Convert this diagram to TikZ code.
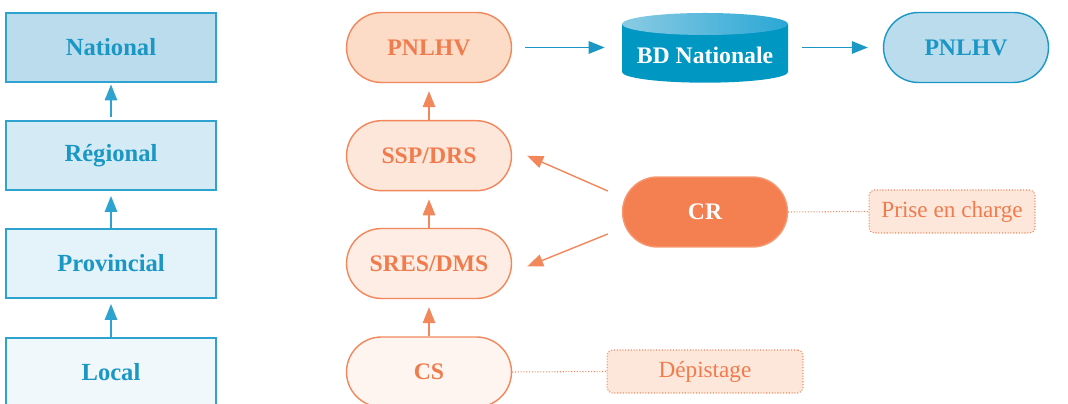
\documentclass[tikz,border=0pt]{standalone}
\usepackage{fontspec}
\setmainfont{Liberation Serif}
\usetikzlibrary{arrows.meta,positioning,calc}

\definecolor{bluetxt}{HTML}{1A97C4}
\definecolor{blueline}{HTML}{2EA3CF}
\definecolor{natfill}{HTML}{BBDCEC}
\definecolor{regfill}{HTML}{D4EAF4}
\definecolor{provfill}{HTML}{E4F2F9}
\definecolor{locfill}{HTML}{F0F8FC}
\definecolor{orangetxt}{HTML}{F07C4D}
\definecolor{orangeline}{HTML}{F2875C}
\definecolor{pnlfill}{HTML}{FCDBC7}
\definecolor{sspfill}{HTML}{FDE6DA}
\definecolor{sresfill}{HTML}{FDEDE4}
\definecolor{csfill}{HTML}{FEF5F0}
\definecolor{crfill}{HTML}{F47F50}
\definecolor{taskfill}{HTML}{FDE6DA}
\definecolor{bdbody}{HTML}{0097C3}
\definecolor{bdtopa}{HTML}{8ACBE3}
\definecolor{bdtopb}{HTML}{2AA7D5}

\begin{document}
\begin{tikzpicture}[
    x=0.02cm, y=-0.02cm,
    level/.style={rectangle, draw=blueline, line width=0.8pt, minimum width=4.2cm, minimum height=1.38cm, align=center, text=bluetxt, font=\fontsize{14}{16}\selectfont\bfseries},
    pill/.style={rectangle, rounded corners=0.7cm, line width=0.8pt, minimum width=3.3cm, minimum height=1.4cm, align=center, font=\fontsize{13.5}{16}\selectfont\bfseries},
    opill/.style={pill, draw=orangeline, text=orangetxt},
    task/.style={rectangle, rounded corners=3pt, draw=orangeline, densely dotted, line width=0.6pt, fill=taskfill, minimum height=0.86cm, text=orangetxt, font=\fontsize{13.2}{16}\selectfont},
    barrow/.style={-{Triangle[length=0.32cm, width=0.25cm]}, line width=0.8pt, draw=blueline, fill=blueline},
    oarrow/.style={-{Triangle[length=0.32cm, width=0.25cm]}, line width=0.8pt, draw=orangeline, fill=orangeline},
    link/.style={densely dotted, line width=0.6pt, draw=orangeline}
]
\clip (0,0) rectangle (1068,404);

% Left column: levels
\node[level, fill=natfill] (nat) at (111,47.5) {National};
\node[level, fill=regfill] (reg) at (111,155.5) {Régional};
\node[level, fill=provfill] (prov) at (111,263.5) {Provincial};
\node[level, fill=locfill] (loc) at (111,372.5) {Local};

\draw[barrow, shorten <=2pt, shorten >=1pt] (reg) -- (nat);
\draw[barrow, shorten >=3pt] (prov) -- (reg);
\draw[barrow, shorten >=3pt] (loc) -- (prov);

% Middle column: structures
\node[opill, fill=pnlfill] (pnl) at (429,47.5) {PNLHV};
\node[opill, fill=sspfill] (ssp) at (429,155.7) {SSP/DRS};
\node[opill, fill=sresfill] (sres) at (429,263.5) {SRES/DMS};
\node[opill, fill=csfill] (cs) at (429,372) {CS};

\draw[oarrow, shorten >=0.16cm] (ssp) -- (pnl);
\draw[oarrow, shorten >=0.16cm] (sres) -- (ssp);
\draw[oarrow, shorten >=0.16cm] (cs) -- (sres);

% Database
\fill[bdbody] (622,24) -- (622,72) arc[start angle=180, end angle=0, x radius=83, y radius=10.7] -- (788,24) -- cycle;
\shade[left color=bdtopa, right color=bdtopb] (705,24) ellipse[x radius=83, y radius=11];
\node[font=\fontsize{13.5}{16}\selectfont\bfseries, text=white, minimum width=3.32cm, minimum height=1.4cm] (bd) at (705,55) {BD Nationale};

\node[pill, draw=bluetxt, fill=natfill, text=bluetxt] (pnl2) at (966,47.5) {PNLHV};

\draw[barrow, draw=bluetxt, fill=bluetxt, shorten <=0.26cm, shorten >=0.34cm] (pnl.east) -- (pnl.east -| bd.west);
\draw[barrow, draw=bluetxt, fill=bluetxt, shorten <=0.28cm, shorten >=0.3cm] (bd.east |- pnl2.west) -- (pnl2.west);

% Reference centre
\node[pill, draw=crfill!80, fill=crfill, text=white] (cr) at (705,212) {CR};
\node[task, minimum width=3.32cm] (prise) at (952,211.5) {Prise en charge};
\draw[link] (cr.east) -- (prise.west);

\draw[oarrow] ($(cr.west)+(-14,-21)$) -- ($(ssp.east)+(15,0)$);
\draw[oarrow] ($(cr.west)+(-14,22)$) -- ($(sres.east)+(15,3)$);

% Screening
\node[task, minimum width=3.92cm] (dep) at (705,371.5) {Dépistage};
\draw[link] (cs.east) -- (dep.west);

\end{tikzpicture}
\end{document}
